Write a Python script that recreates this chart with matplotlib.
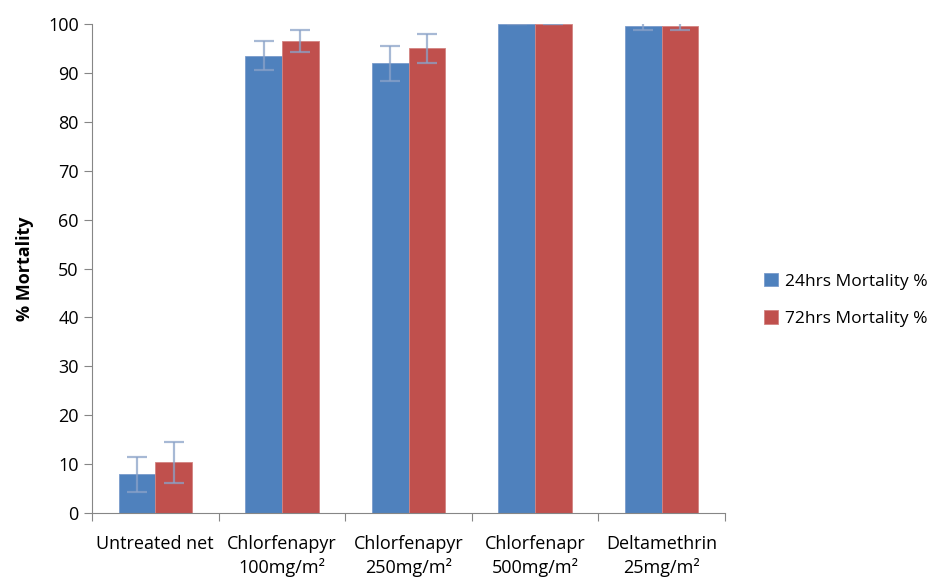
import matplotlib.pyplot as plt
import numpy as np

categories = ['Untreated net', 'Chlorfenapyr\n100mg/m²', 'Chlorfenapyr\n250mg/m²',
              'Chlorfenapr\n500mg/m²', 'Deltamethrin\n25mg/m²']
mort_24 = [7.9, 93.5, 92.0, 100.0, 99.6]
err_24 = [3.6, 3.0, 3.6, 0.0, 0.9]
mort_72 = [10.4, 96.5, 95.0, 100.0, 99.6]
err_72 = [4.2, 2.3, 2.9, 0.0, 0.9]
series_names = ['24hrs Mortality %', '72hrs Mortality %']

plt.rcParams['font.family'] = ['Open Sans', 'DejaVu Sans']

fig = plt.figure(figsize=(9.35, 5.79), dpi=100)
ax = fig.add_axes([0.0984, 0.114, 0.677, 0.8445])

x = np.arange(len(categories))
w = 0.29
ebar = dict(ecolor='#8aa2c8', elinewidth=1.6, capsize=7, capthick=1.6, alpha=0.75)
b1 = ax.bar(x - w / 2, mort_24, w, color='#4f81bd', edgecolor='#7a9ccc', linewidth=0.6,
            label=series_names[0])
b2 = ax.bar(x + w / 2, mort_72, w, color='#c0504d', edgecolor='#d38482', linewidth=0.6,
            label=series_names[1])
ax.errorbar(x - w / 2, mort_24, yerr=err_24, fmt='none', **ebar)
ax.errorbar(x + w / 2, mort_72, yerr=err_72, fmt='none', **ebar)

ax.set_xlim(-0.5, len(categories) - 0.5)
ax.set_ylim(0, 100)
ax.set_yticks(range(0, 101, 10))
ax.set_xticks(np.arange(-0.5, len(categories), 1.0))
ax.set_xticklabels([])
ax.set_xticks(x, minor=True)
ax.set_xticklabels(categories, minor=True, fontsize=13, linespacing=1.3)
ax.tick_params(axis='x', which='minor', length=0, pad=16)
ax.tick_params(axis='x', which='major', length=6, color='#868686')
ax.tick_params(axis='y', length=6, color='#868686', labelsize=13)
for s in ['top', 'right']:
    ax.spines[s].set_visible(False)
for s in ['left', 'bottom']:
    ax.spines[s].set_color('#868686')
ax.set_ylabel('% Mortality', fontsize=13, fontweight='bold', labelpad=10)

fig.legend(handles=[b1, b2], loc='center left', bbox_to_anchor=(0.8, 0.482),
           frameon=False, fontsize=12.5, handlelength=0.8, handleheight=0.8,
           handletextpad=0.45, labelspacing=1.2)

plt.savefig('out.png', dpi=100)
